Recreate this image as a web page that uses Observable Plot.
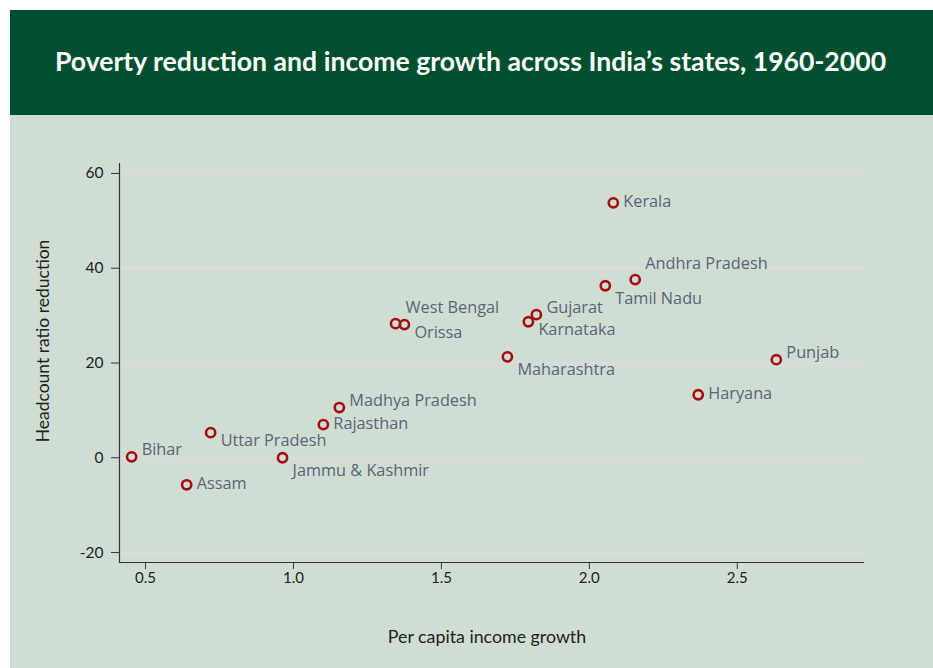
<!DOCTYPE html>
<html>
<head>
<meta charset="utf-8">
<script src="https://cdn.jsdelivr.net/npm/d3@7"></script>
<script src="https://cdn.jsdelivr.net/npm/@observablehq/plot@0.6"></script>
<style>
  html, body { margin: 0; padding: 0; background: #ffffff; }
  #wrap { position: relative; width: 933px; height: 668px; background: #ffffff; overflow: hidden; }
  #header { position: absolute; left: 10px; top: 10px; width: 923px; height: 105px; background: #00502f;
    color: #ffffff; font-family: Lato, "Open Sans", sans-serif; font-weight: bold; font-size: 26.6px;
    display: flex; align-items: center; justify-content: center; padding-bottom: 4px; padding-right: 2px; box-sizing: border-box; }
  #panel { position: absolute; left: 10px; top: 115px; width: 923px; height: 553px; background: #d0ddd3; }
  #panel svg { display: block; }
</style>
</head>
<body>
<div id="wrap">
  <div id="header">Poverty reduction and income growth across India’s states, 1960-2000</div>
  <div id="panel"></div>
</div>
<script>
// ---- data ----
const states = ["Bihar", "Assam", "Uttar Pradesh", "Jammu & Kashmir", "Rajasthan", "Madhya Pradesh",
  "West Bengal", "Orissa", "Maharashtra", "Karnataka", "Gujarat", "Tamil Nadu", "Andhra Pradesh",
  "Kerala", "Haryana", "Punjab"];
const incomeGrowth = [0.453, 0.639, 0.72, 0.963, 1.101, 1.155, 1.345, 1.375, 1.723, 1.794, 1.821,
  2.054, 2.155, 2.081, 2.368, 2.632];
const headcountReduction = [0.2, -5.7, 5.3, 0.0, 7.0, 10.6, 28.3, 28.1, 21.3, 28.7, 30.2, 36.3, 37.6,
  53.8, 13.3, 20.7];
const xTicks = [0.5, 1.0, 1.5, 2.0, 2.5];
const yTicks = [-20, 0, 20, 40, 60];

// ---- layout (label placement relative to each point) ----
const placement = {
  "Bihar": "ne", "Assam": "e", "Uttar Pradesh": "se", "Jammu & Kashmir": "sse", "Rajasthan": "e",
  "Madhya Pradesh": "ne", "West Bengal": "nne", "Orissa": "se", "Maharashtra": "sse",
  "Karnataka": "se", "Gujarat": "ne", "Tamil Nadu": "sse", "Andhra Pradesh": "nne",
  "Kerala": "e", "Haryana": "e", "Punjab": "ne"
};
const offsets = { e: -1, ne: -7, nne: -16, se: 8, sse: 13 };

const data = states.map((s, i) => ({ state: s, x: incomeGrowth[i], y: headcountReduction[i], pos: placement[s] }));

const xDomain = [0.412, 2.93];
const yDomain = [-22.1, 62.1];
const font = "Lato, 'Open Sans', sans-serif";
const labelFont = "'Open Sans', Lato, sans-serif";

const labelMarks = Object.keys(offsets).map(k =>
  Plot.text(data.filter(d => d.pos === k), {
    x: "x", y: "y", text: "state", dx: 10, dy: offsets[k], textAnchor: "start",
    fill: "#5b6479", fontSize: 16.3, fontFamily: labelFont
  })
);

const chart = Plot.plot({
  width: 923,
  height: 553,
  marginLeft: 109,
  marginRight: 69,
  marginTop: 48,
  marginBottom: 106,
  style: { background: "transparent", fontFamily: font, fontSize: "15px", color: "#222" },
  x: { domain: xDomain },
  y: { domain: yDomain },
  marks: [
    Plot.gridY(yTicks, { stroke: "#dcdcdc", strokeOpacity: 1, strokeWidth: 1.5, x1: xDomain[0], x2: xDomain[1] }),
    Plot.axisY(yTicks, { tickSize: 8, tickPadding: 8, fontSize: 15.5, label: null, stroke: "#333", fill: "#222",
      tickFormat: d => String(d) }),
    Plot.axisX(xTicks, { tickSize: 7, tickPadding: 3, fontSize: 15, label: null, stroke: "#333", fill: "#222",
      tickFormat: d3.format(".1f") }),
    Plot.ruleX([xDomain[0]], { stroke: "#333", strokeWidth: 1.2 }),
    Plot.ruleY([yDomain[0]], { stroke: "#333", strokeWidth: 1.2 }),
    Plot.dot(data, { x: "x", y: "y", r: 4.6, stroke: "#a50d12", strokeWidth: 2.6, fill: "none" }),
    ...labelMarks,
    Plot.text(["Per capita income growth"], { frameAnchor: "bottom", dy: 80, dx: -5, fontSize: 17.8, fill: "#222", fontFamily: font }),
    Plot.text(["Headcount ratio reduction"], { frameAnchor: "left", textAnchor: "middle", dx: -76, dy: -22, rotate: -90, fontSize: 17.5, fill: "#222", fontFamily: font })
  ]
});
document.getElementById("panel").appendChild(chart);
</script>
</body>
</html>
